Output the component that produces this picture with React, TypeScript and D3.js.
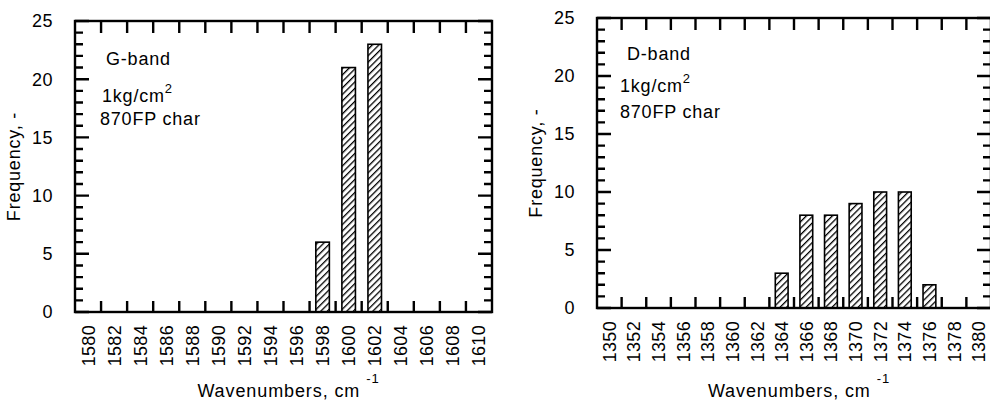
import * as d3 from 'd3';
import React from 'react';

const W = 990;
const H = 401;

// G-band histogram
const gWavenumbers = [1580, 1582, 1584, 1586, 1588, 1590, 1592, 1594, 1596, 1598, 1600, 1602, 1604, 1606, 1608, 1610];
const gFrequency = [0, 0, 0, 0, 0, 0, 0, 0, 0, 6, 21, 23, 0, 0, 0, 0];

// D-band histogram
const dWavenumbers = [1350, 1352, 1354, 1356, 1358, 1360, 1362, 1364, 1366, 1368, 1370, 1372, 1374, 1376, 1378, 1380];
const dFrequency = [0, 0, 0, 0, 0, 0, 0, 3, 8, 8, 9, 10, 10, 2, 0, 0];

const yMajorTicks = [0, 5, 10, 15, 20, 25];
const yMinorTicks = [1, 2, 3, 4, 6, 7, 8, 9, 11, 12, 13, 14, 16, 17, 18, 19, 21, 22, 23, 24];

const bandNames = ['G-band', 'D-band'];
const pressureLabel = '1kg/cm';
const sampleLabel = '870FP char';
const yTitle = 'Frequency, -';
const xTitle = 'Wavenumbers, cm';

const FONT = 'Liberation Sans, Arial, Helvetica, sans-serif';
const INK = '#000';

const panels = [
  {
    cats: gWavenumbers, freq: gFrequency, name: bandNames[0],
    left: 75, right: 492, top: 21, bottom: 312,
    notes: [[31, 44], [27, 81], [25, 104]]
  },
  {
    cats: dWavenumbers, freq: dFrequency, name: bandNames[1],
    left: 597, right: 991, top: 18, bottom: 308,
    notes: [[30, 42], [23, 74], [23, 100]]
  }
];

type Panel = typeof panels[number];

const Histogram = ({ p }: { p: Panel }) => {
  const x = d3.scaleBand<number>()
    .domain(p.cats)
    .range([p.left, p.right]);
  const y = d3.scaleLinear()
    .domain([0, 25])
    .range([p.bottom, p.top]);
  const bw = x.bandwidth();

  // ticks: band boundaries on top/bottom, 1-unit steps on left/right
  let ticks = '';
  p.cats.slice(1).forEach(c => {
    const bx = x(c) as number;
    ticks += `M${bx},${p.bottom}V${p.bottom - 11}M${bx},${p.top}V${p.top + 12}`;
  });
  const yTicks = [...yMajorTicks.map(v => [v, 14]), ...yMinorTicks.map(v => [v, 8])];
  yTicks.forEach(([v, len]) => {
    ticks += `M${p.left},${y(v)}h${len}M${p.right},${y(v)}h${-len}`;
  });

  return (
    <g>
      {p.cats.map((c, i) => p.freq[i] > 0 && (
        <rect
          key={c}
          x={(x(c) as number) + bw * 0.24}
          width={bw * 0.52}
          y={y(p.freq[i])}
          height={y(0) - y(p.freq[i])}
          fill="url(#hatch)"
          stroke={INK}
          strokeWidth={1.6}
        />
      ))}

      <rect x={p.left} y={p.top} width={p.right - p.left} height={p.bottom - p.top}
        fill="none" stroke={INK} strokeWidth={2.4} />
      <path d={ticks} fill="none" stroke={INK} strokeWidth={2.4} />

      {yMajorTicks.map(v => (
        <text key={'yl' + v} x={p.left - 22} y={y(v)} dy="0.36em" textAnchor="end"
          fontFamily={FONT} fontSize={18} letterSpacing={0.5} fill={INK}>{v}</text>
      ))}

      {p.cats.map(c => (
        <text key={'xl' + c}
          transform={`translate(${(x(c) as number) + bw / 2},${p.bottom + 13}) rotate(-90)`}
          dy="0.36em" textAnchor="end"
          fontFamily={FONT} fontSize={18} letterSpacing={0.3} fill={INK}>{c}</text>
      ))}

      <g fontFamily={FONT} fontSize={18} letterSpacing={0.8} fill={INK}>
        <text x={p.left + p.notes[0][0]} y={p.top + p.notes[0][1]}>{p.name}</text>
        <text x={p.left + p.notes[1][0]} y={p.top + p.notes[1][1]}>
          {pressureLabel}<tspan dy={-9} fontSize={13}>2</tspan>
        </text>
        <text x={p.left + p.notes[2][0]} y={p.top + p.notes[2][1]}>{sampleLabel}</text>

        <text transform={`translate(${p.left - 55},${(p.top + p.bottom) / 2}) rotate(-90)`}
          textAnchor="middle">{yTitle}</text>
        <text x={(p.left + p.right) / 2 + 5} y={397} textAnchor="middle" letterSpacing={0.9}>
          {xTitle}<tspan dx={6} dy={-14} fontSize={13}>-1</tspan>
        </text>
      </g>
    </g>
  );
};

const App = () => (
  <svg width={W} height={H} style={{ position: 'absolute', left: 0, top: 0, background: '#fff' }}>
    <defs>
      <pattern id="hatch" patternUnits="userSpaceOnUse" width={4.6} height={4.6}
        patternTransform="rotate(45)">
        <rect x={0} y={0} width={1.3} height={4.6} fill={INK} />
      </pattern>
    </defs>
    {panels.map(p => <Histogram key={p.name} p={p} />)}
  </svg>
);

export default App;
